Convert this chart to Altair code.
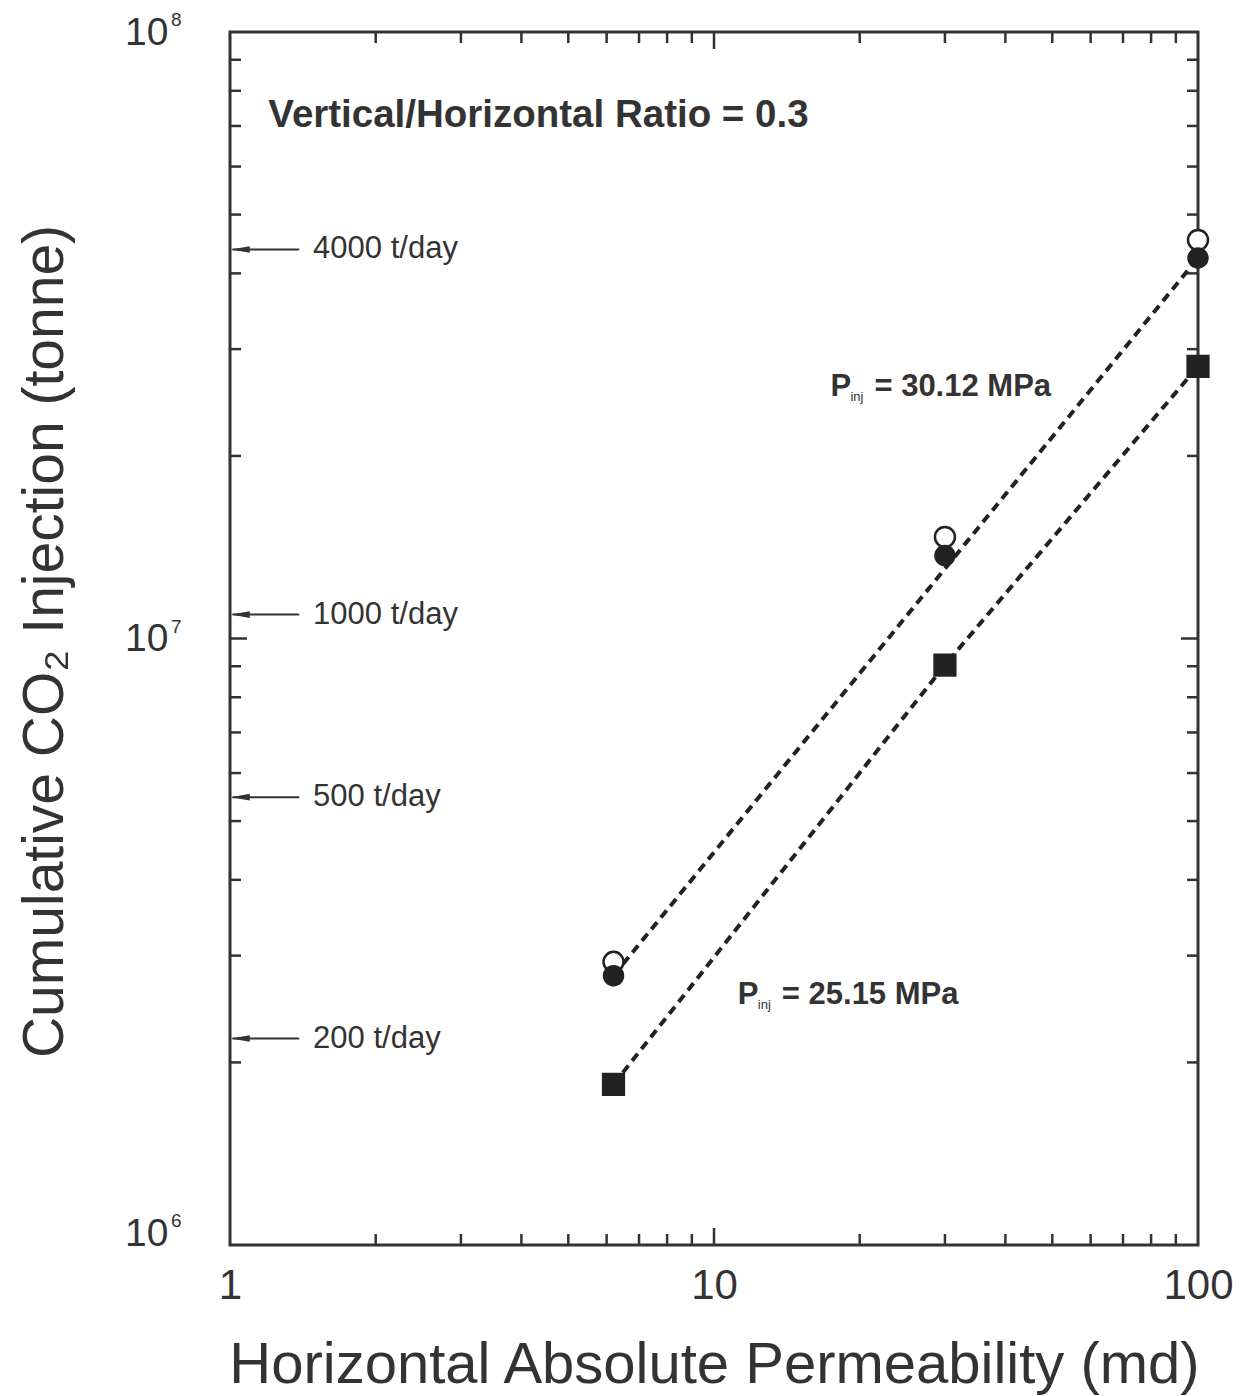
import altair as alt
import pandas as pd

# ---------------- data ----------------
perm = [6.2, 30, 100]                          # horizontal permeability (md)
open_circle = [2.93e6, 1.47e7, 4.54e7]         # open circles
filled_circle = [2.78e6, 1.37e7, 4.24e7]       # filled circles (Pinj = 30.12 MPa)
square = [1.84e6, 9.04e6, 2.81e7]              # filled squares (Pinj = 25.15 MPa)

upper_line_x = [6.2, 100]
upper_line_y = [2.78e6, 4.24e7]
lower_line_x = [6.2, 30, 100]
lower_line_y = [1.84e6, 9.04e6, 2.81e7]

rate_labels = ["4000 t/day", "1000 t/day", "500 t/day", "200 t/day"]
rate_values = [4.38e7, 1.095e7, 5.475e6, 2.19e6]
arrow_tip_x = 1.012
arrow_head_x = 1.05
arrow_tail_x = 1.39
rate_label_x = 1.485

pinj_main = ["= 30.12 MPa", "= 25.15 MPa"]
pinj_x = [17.4, 11.2]
pinj_y = [2.6e7, 2.58e6]

ratio_text = ["Vertical/Horizontal Ratio = 0.3"]
ratio_x = [1.2]
ratio_y = [7.3e7]

x_minor = [2, 3, 4, 5, 6, 7, 8, 9, 20, 30, 40, 50, 60, 70, 80, 90]
x_major = [10]
y_minor = [2e6, 3e6, 4e6, 5e6, 6e6, 7e6, 8e6, 9e6,
           2e7, 3e7, 4e7, 5e7, 6e7, 7e7, 8e7, 9e7]
y_major = [1e7]

x_label_values = [1, 10, 100]
y_label_values = [1e6, 1e7, 1e8]
y_exp_upper_values = [1e7, 1e8]
y_exp_upper_text = ["7", "8"]
y_exp_lower_values = [1e6]
y_exp_lower_text = ["6"]

# ---------------- styling ----------------
W, H = 968, 1213
FONT = "Liberation Sans"
TXT = "#333333"
INK = "#222222"
MAJ, MIN = 17, 11

xs = alt.Scale(type="log", domain=[1, 100])
ys = alt.Scale(type="log", domain=[1e6, 1e8])

xaxis = alt.Axis(
    values=x_label_values, labelExpr="format(datum.value, 'd')",
    ticks=False, domain=False, grid=False, labelFlush=False, labelOverlap=False,
    labelFont=FONT, labelFontSize=42, labelColor=TXT, labelPadding=20,
    title="Horizontal Absolute Permeability (md)", titleFont=FONT,
    titleFontSize=58, titleFontWeight="normal", titleColor=TXT,
    titleX=W / 2, titleY=120, titleBaseline="middle", titleAlign="center",
)
yaxis = alt.Axis(
    values=y_label_values,
    labelExpr="'10'",
    labelBaseline={"condition": {"test": "datum.value < 2e6", "value": "alphabetic"},
                   "value": "middle"},
    ticks=False, domain=False, grid=False, labelFlush=False, labelOverlap=False,
    labelFont=FONT, labelFontSize=39, labelColor=TXT, labelPadding=62,
    title="Cumulative CO₂ Injection (tonne)", titleFont=FONT,
    titleFontSize=57, titleFontWeight="normal", titleColor=TXT,
    titleX=-185, titleY=609, titleAngle=270, titleBaseline="middle",
    titleAlign="center",
)

X = lambda f: alt.X(f, scale=xs, axis=xaxis)
Y = lambda f: alt.Y(f, scale=ys, axis=yaxis)

layers = []

# inward tick marks on all four sides
def xticks(vals, length):
    df = pd.DataFrame({"v": vals})
    base = alt.Chart(df).mark_rule(color=TXT, strokeWidth=2.5)
    return [
        base.encode(x=X("v:Q"), y=alt.value(H), y2=alt.value(H - length)),
        base.encode(x=X("v:Q"), y=alt.value(0), y2=alt.value(length)),
    ]

def yticks(vals, length):
    df = pd.DataFrame({"v": vals})
    base = alt.Chart(df).mark_rule(color=TXT, strokeWidth=2.5)
    return [
        base.encode(y=Y("v:Q"), x=alt.value(0), x2=alt.value(length)),
        base.encode(y=Y("v:Q"), x=alt.value(W), x2=alt.value(W - length)),
    ]

layers += xticks(x_minor, MIN) + xticks(x_major, MAJ)
layers += yticks(y_minor, MIN) + yticks(y_major, MAJ)

# exponent of the y tick labels (10^n)
exp_up = pd.DataFrame({"v": y_exp_upper_values, "t": y_exp_upper_text})
exp_lo = pd.DataFrame({"v": y_exp_lower_values, "t": y_exp_lower_text})
layers.append(
    alt.Chart(exp_up).mark_text(align="left", baseline="middle", font=FONT,
                                fontSize=19, color=TXT, dy=-12)
    .encode(y=Y("v:Q"), x=alt.value(-59), text="t:N")
)
layers.append(
    alt.Chart(exp_lo).mark_text(align="left", baseline="middle", font=FONT,
                                fontSize=19, color=TXT, dy=-24)
    .encode(y=Y("v:Q"), x=alt.value(-59), text="t:N")
)

# dashed lines
up_df = pd.DataFrame({"x": upper_line_x, "y": upper_line_y})
lo_df = pd.DataFrame({"x": lower_line_x, "y": lower_line_y})
for df in (up_df, lo_df):
    layers.append(
        alt.Chart(df).mark_line(color=INK, strokeWidth=4, strokeDash=[9, 6])
        .encode(x=X("x:Q"), y=Y("y:Q"))
    )

# markers
pts = pd.DataFrame({"x": perm, "o": open_circle, "f": filled_circle, "s": square})
layers.append(
    alt.Chart(pts).mark_point(shape="circle", fill="white", stroke=INK,
                              strokeWidth=2.5, size=400, opacity=1)
    .encode(x=X("x:Q"), y=Y("o:Q"))
)
layers.append(
    alt.Chart(pts).mark_point(shape="circle", filled=True, color=INK, size=460, opacity=1)
    .encode(x=X("x:Q"), y=Y("f:Q"))
)
layers.append(
    alt.Chart(pts).mark_point(shape="square", filled=True, color=INK, size=540, opacity=1)
    .encode(x=X("x:Q"), y=Y("s:Q"))
)

# rate arrows
rates = pd.DataFrame({
    "label": rate_labels, "y": rate_values,
    "tip": [arrow_tip_x] * 4, "head": [arrow_head_x] * 4,
    "tail": [arrow_tail_x] * 4, "lx": [rate_label_x] * 4,
})
layers.append(
    alt.Chart(rates).mark_rule(color=TXT, strokeWidth=2)
    .encode(x=X("tip:Q"), x2="tail:Q", y=Y("y:Q"))
)
layers.append(
    alt.Chart(rates).mark_point(shape="M-1,0L1,-0.35L1,0.35Z", filled=True,
                                color=TXT, size=360, opacity=1)
    .encode(x=X("head:Q"), y=Y("y:Q"))
)
layers.append(
    alt.Chart(rates).mark_text(align="left", baseline="middle", font=FONT,
                               fontSize=31, color=TXT)
    .encode(x=X("lx:Q"), y=Y("y:Q"), text="label:N")
)

# P_inj annotations
pinj = pd.DataFrame({"x": pinj_x, "y": pinj_y, "t": pinj_main,
                     "p": ["P", "P"], "s": ["inj", "inj"]})
layers.append(
    alt.Chart(pinj).mark_text(align="left", baseline="middle", font=FONT,
                              fontSize=31, fontWeight="bold", color=TXT)
    .encode(x=X("x:Q"), y=Y("y:Q"), text="p:N")
)
layers.append(
    alt.Chart(pinj).mark_text(align="left", baseline="middle", font=FONT,
                              fontSize=13, fontWeight="normal", color=TXT,
                              dx=20, dy=10)
    .encode(x=X("x:Q"), y=Y("y:Q"), text="s:N")
)
layers.append(
    alt.Chart(pinj).mark_text(align="left", baseline="middle", font=FONT,
                              fontSize=31, fontWeight="bold", color=TXT, dx=44)
    .encode(x=X("x:Q"), y=Y("y:Q"), text="t:N")
)

# ratio annotation
ratio = pd.DataFrame({"x": ratio_x, "y": ratio_y, "t": ratio_text})
layers.append(
    alt.Chart(ratio).mark_text(align="left", baseline="middle", font=FONT,
                               fontSize=38.5, fontWeight="bold", color=TXT)
    .encode(x=X("x:Q"), y=Y("y:Q"), text="t:N")
)

chart = (
    alt.layer(*layers)
    .properties(
        width=W, height=H,
        padding={"left": 230, "top": 32, "right": 42, "bottom": 151},
        autosize=alt.AutoSizeParams(type="none"),
        background="white",
    )
    .configure_view(stroke=TXT, strokeWidth=3)
)

chart.save("out.html", embed_options={"renderer": "svg", "actions": False})
